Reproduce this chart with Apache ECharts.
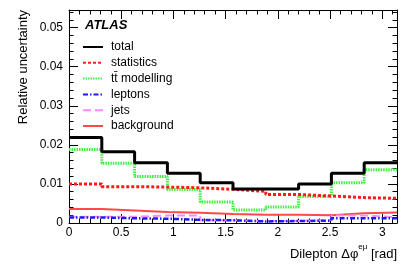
<!DOCTYPE html>
<html>
<head>
<meta charset="utf-8">
<script src="https://cdn.jsdelivr.net/npm/echarts@6/dist/echarts.min.js"></script>
<style>html,body{margin:0;padding:0;background:#fff}#c{width:414px;height:269px}</style>
</head>
<body>
<div id="c"></div>
<script>
// Bin edges of Dilepton delta-phi (rad)
var binEdges = [0, 0.3142, 0.6283, 0.9425, 1.2566, 1.5708, 1.8850, 2.1991, 2.5133, 2.8274, 3.1416];
// Relative uncertainties per bin
var total      = [0.0219, 0.0182, 0.0154, 0.0127, 0.0103, 0.0087, 0.0087, 0.0100, 0.0127, 0.0154];
var statistics = [0.0100, 0.0093, 0.0092, 0.0090, 0.0086, 0.0081, 0.0073, 0.0069, 0.0065, 0.0063];
var ttModel    = [0.0188, 0.0153, 0.0119, 0.0086, 0.0054, 0.0033, 0.0041, 0.0068, 0.0103, 0.0136];
var leptons    = [0.0014, 0.0012, 0.0011, 0.0008, 0.0007, 0.0004, 0.0005, 0.0006, 0.0012, 0.0012];
var jets       = [0.0016, 0.0016, 0.0019, 0.0019, 0.0007, 0.0005, 0.0005, 0.0008, 0.0019, 0.0015];
var background = [0.0036, 0.0032, 0.0028, 0.0026, 0.0023, 0.0021, 0.0021, 0.0020, 0.0025, 0.0027];
var seriesNames = ['total', 'statistics', 't\u0074\u0304 modelling', 'leptons', 'jets', 'background'];
var xTickLabels = ['0', '0.5', '1', '1.5', '2', '2.5', '3'];
var yTickLabels = ['0', '0.01', '0.02', '0.03', '0.04', '0.05'];

function histPoints(vals) {
  var pts = [];
  for (var i = 0; i < vals.length; i++) pts.push([binEdges[i], vals[i]]);
  pts.push([binEdges[vals.length], vals[vals.length - 1]]);
  return pts;
}

var FONT = 'Liberation Sans, Arial, Helvetica, sans-serif';
var chart = echarts.init(document.getElementById('c'));

function xLab(v) {
  for (var i = 0; i < xTickLabels.length; i++) if (Math.abs(parseFloat(xTickLabels[i]) - v) < 1e-6) return xTickLabels[i];
  return '';
}
function yLab(v) {
  for (var i = 0; i < yTickLabels.length; i++) if (Math.abs(parseFloat(yTickLabels[i]) - v) < 1e-7) return yTickLabels[i];
  return '';
}

var tickCommon = { show: true, inside: true, length: 9, lineStyle: { color: '#000', width: 1 } };
var minorCommon = { show: true, splitNumber: 5, length: 4.5, lineStyle: { color: '#000', width: 1 } };

var styles = [
  { color: '#000000', width: 3, type: 'solid' },
  { color: '#ff1a1a', width: 3, type: [3, 2] },
  { color: '#44ee44', width: 3, type: [1.5, 1] },
  { color: '#1a1aff', width: 2.5, type: [5, 2, 1.5, 2] },
  { color: '#ff88ff', width: 2, type: [8, 4] },
  { color: '#ff4848', width: 2, type: 'solid' }
];
var dataSets = [total, statistics, ttModel, leptons, jets, background];

var series = dataSets.map(function (d, i) {
  return {
    name: seriesNames[i],
    type: 'line',
    step: 'end',
    symbol: 'none',
    silent: true,
    animation: false,
    xAxisIndex: 0,
    yAxisIndex: 0,
    data: histPoints(d),
    lineStyle: { color: styles[i].color, width: styles[i].width, type: styles[i].type, cap: 'butt' },
    itemStyle: { color: styles[i].color },
    z: 10 - i
  };
});

chart.setOption({
  animation: false,
  backgroundColor: '#fff',
  grid: { left: 69, right: 17, top: 10, bottom: 46, containLabel: false },
  legend: {
    orient: 'vertical',
    left: 77,
    top: 35,
    itemWidth: 20,
    itemHeight: 14,
    itemGap: 1.8,
    data: seriesNames,
    itemStyle: { opacity: 0, borderWidth: 0 },
    textStyle: { fontFamily: FONT, fontSize: 12, color: '#000', lineHeight: 14, padding: [0, 0, 0, 3] },
    selectedMode: false
  },
  xAxis: [{
    type: 'value', min: 0, max: binEdges[binEdges.length - 1], interval: 0.5,
    position: 'bottom',
    name: '{a|Dilepton \u0394\u03c6}{s|e\u03bc}{a| [rad]}',
    nameLocation: 'end', nameGap: 0,
    nameTextStyle: {
      align: 'right', verticalAlign: 'top', padding: [20, 0, 0, 0],
      rich: {
        a: { fontFamily: FONT, fontSize: 13, color: '#000', lineHeight: 22 },
        s: { fontFamily: FONT, fontSize: 8, color: '#000', lineHeight: 8, verticalAlign: 'top' }
      }
    },
    axisLine: { show: true, onZero: false, lineStyle: { color: '#000', width: 1 } },
    axisTick: tickCommon, minorTick: minorCommon,
    splitLine: { show: false },
    axisLabel: { fontFamily: FONT, fontSize: 12, color: '#000', margin: 4, formatter: xLab, showMaxLabel: false }
  }, {
    type: 'value', min: 0, max: binEdges[binEdges.length - 1], interval: 0.5,
    position: 'top',
    axisLine: { show: true, onZero: false, lineStyle: { color: '#000', width: 1 } },
    axisTick: tickCommon, minorTick: minorCommon,
    splitLine: { show: false }, axisLabel: { show: false }
  }],
  yAxis: [{
    type: 'value', min: 0, max: 0.0545, interval: 0.01,
    position: 'left',
    axisLine: { show: true, onZero: false, lineStyle: { color: '#000', width: 1 } },
    axisTick: tickCommon, minorTick: minorCommon,
    splitLine: { show: false },
    axisLabel: { fontFamily: FONT, fontSize: 12, color: '#000', margin: 6, formatter: yLab, showMaxLabel: false }
  }, {
    type: 'value', min: 0, max: 0.0545, interval: 0.01,
    position: 'right',
    axisLine: { show: true, onZero: false, lineStyle: { color: '#000', width: 1 } },
    axisTick: tickCommon, minorTick: minorCommon,
    splitLine: { show: false }, axisLabel: { show: false }
  }],
  graphic: [
    {
      type: 'text', left: 85, top: 19,
      style: { text: 'ATLAS', font: 'italic bold 13px ' + FONT, fill: '#000' }
    },
    {
      type: 'text', x: 23, y: 10, rotation: Math.PI / 2,
      style: { text: 'Relative uncertainty', font: '13px ' + FONT, fill: '#000', align: 'right', verticalAlign: 'middle' }
    }
  ],
  series: series
});
</script>
</body>
</html>
